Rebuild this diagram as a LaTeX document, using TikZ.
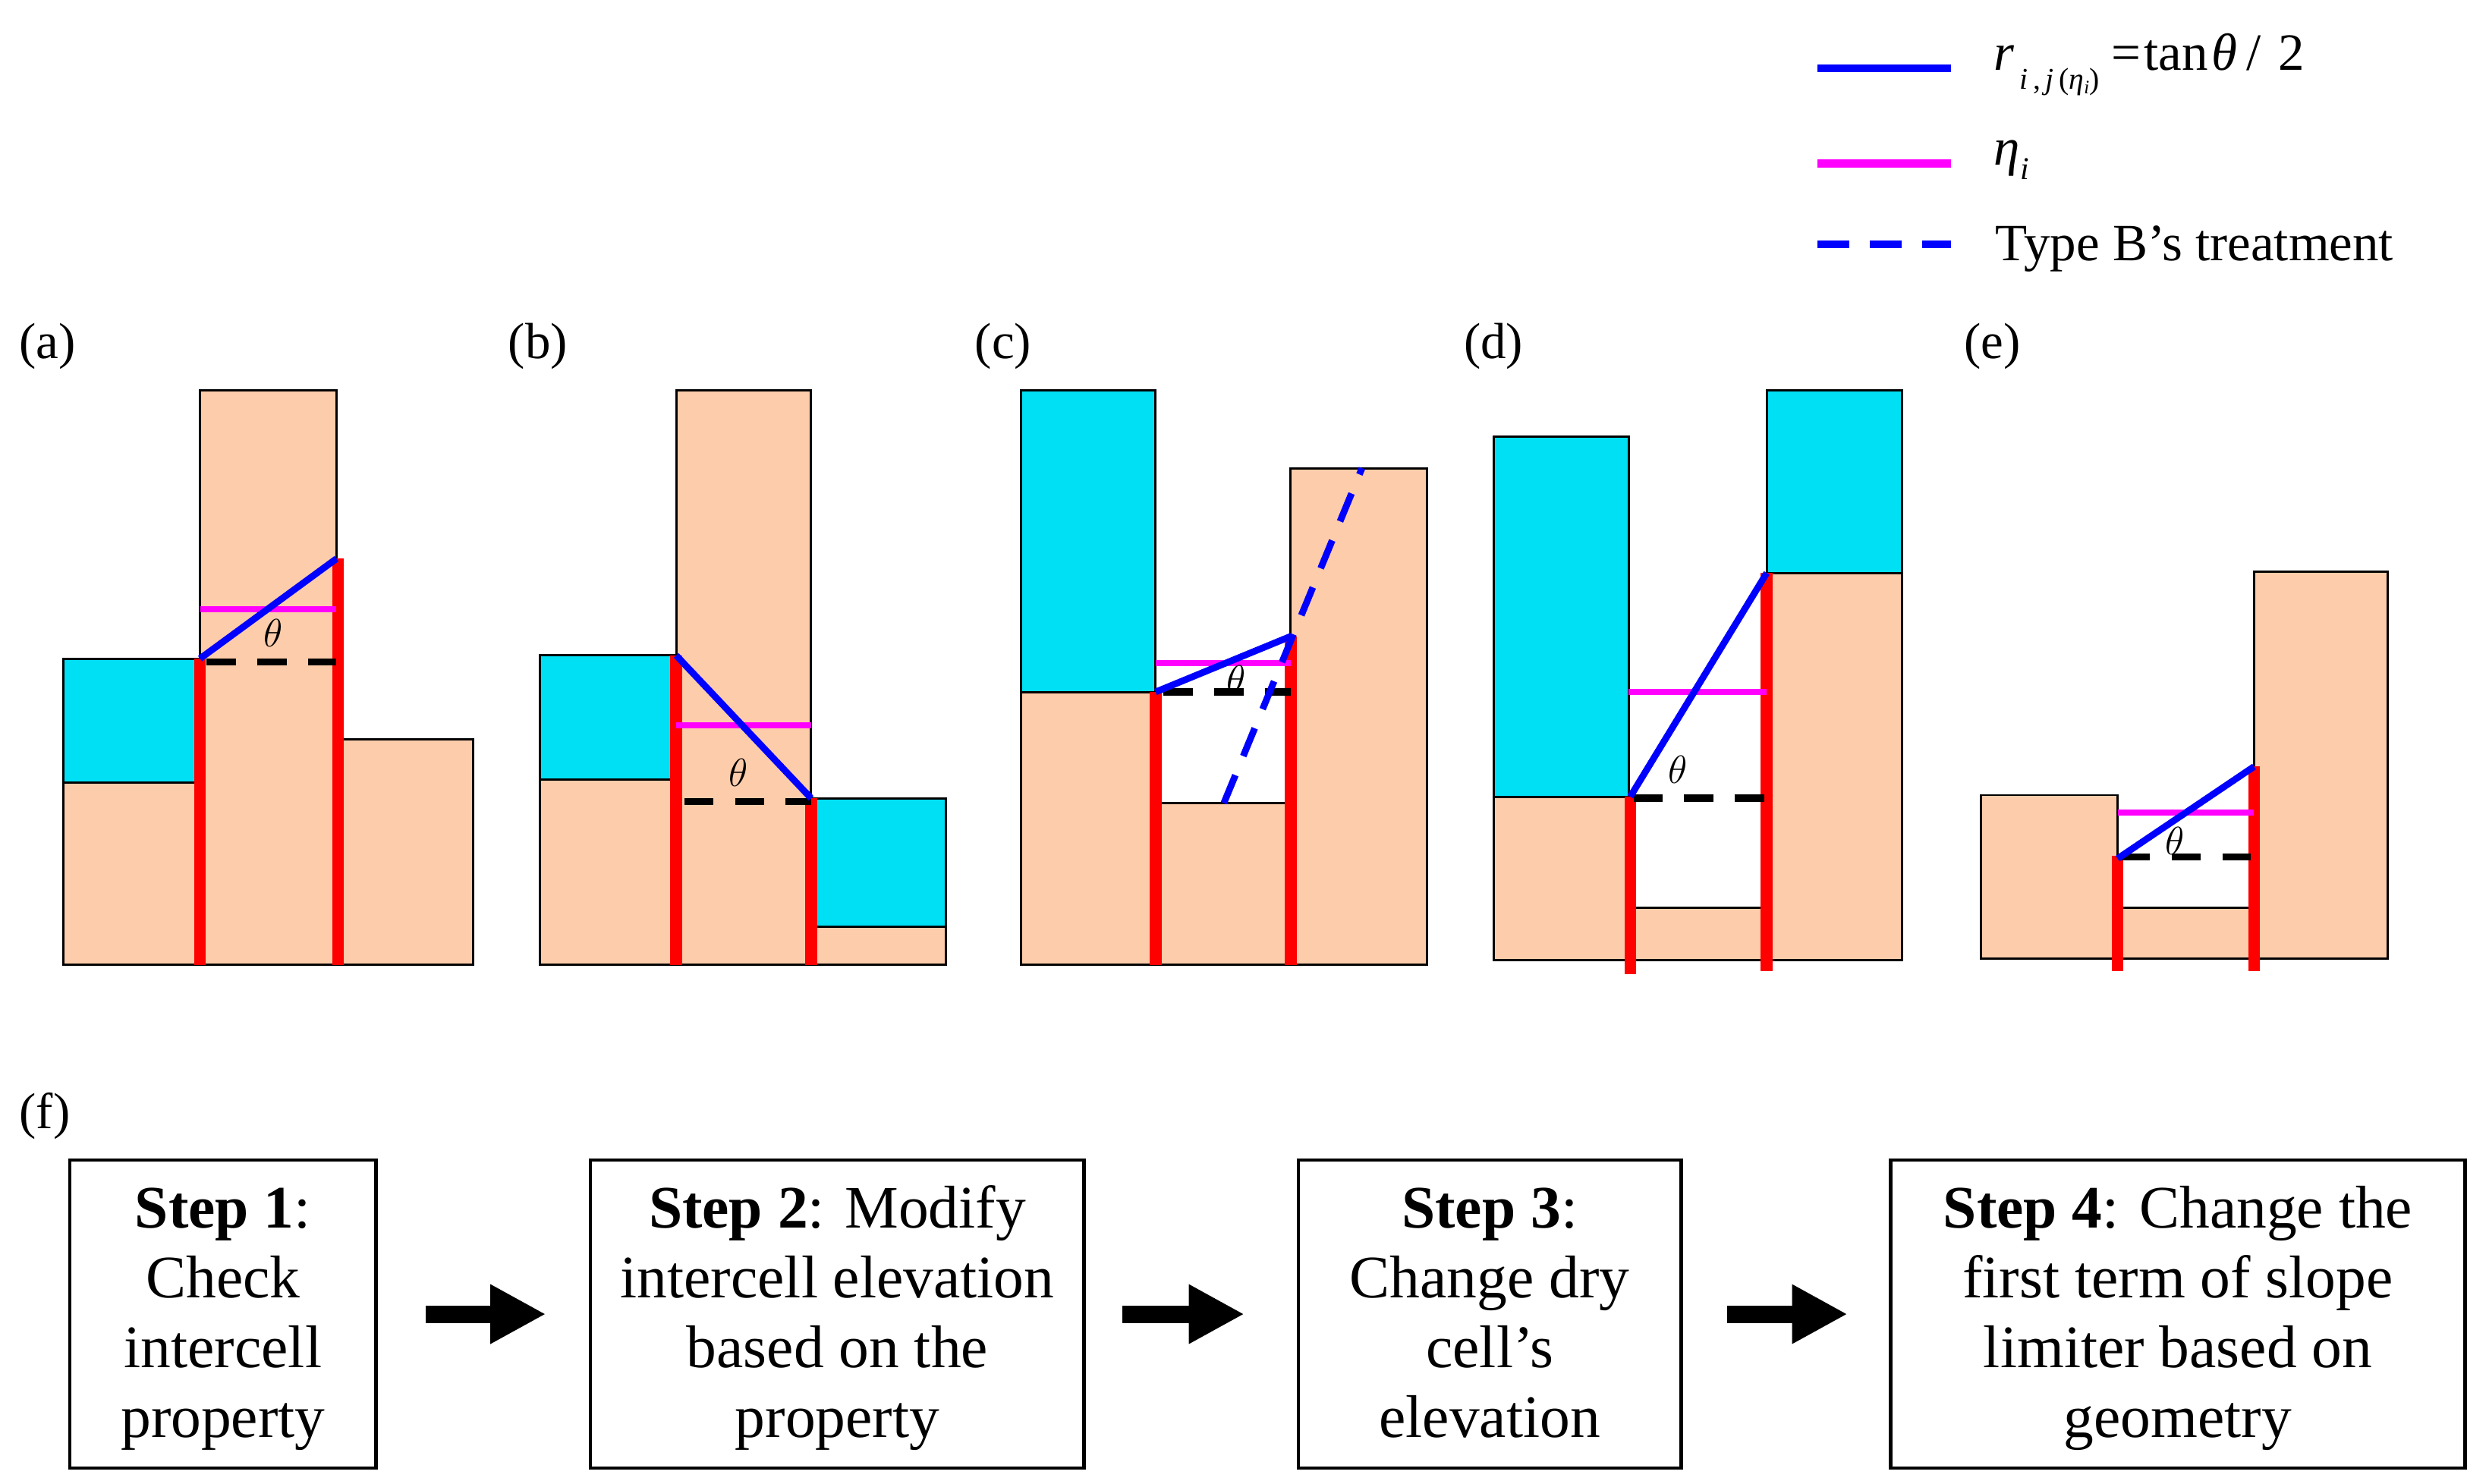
\documentclass[tikz,border=0pt]{standalone}
\usepackage{fontspec}
\setmainfont{Liberation Serif}
\usepackage{amsmath}
\usetikzlibrary{arrows.meta}
\definecolor{soil}{RGB}{253,204,170}
\definecolor{water}{RGB}{0,224,245}
\definecolor{etacol}{RGB}{255,0,255}
\definecolor{gradcol}{RGB}{0,0,255}
\definecolor{wallcol}{RGB}{255,0,0}
\tikzset{
  cell/.style={draw=black, line width=1.4pt, fill=soil},
  wet/.style={draw=black, line width=1.4pt, fill=water},
  wall/.style={wallcol, line width=7.5pt},
  grad/.style={gradcol, line width=4.2pt},
  etaline/.style={etacol, line width=3.8pt},
  refline/.style={black, line width=4.6pt, dash pattern=on 18.5pt off 13.5pt},
  typeb/.style={gradcol, line width=4.2pt, dash pattern=on 19pt off 13pt},
  ang/.style={font=\fontsize{26}{30}\selectfont, inner sep=0pt},
  plabel/.style={font=\fontsize{32}{38}\selectfont, anchor=base west, inner sep=0pt},
  legtext/.style={font=\fontsize{33}{38}\selectfont, anchor=base west, inner sep=0pt},
  stepbox/.style={draw, line width=2.2pt, minimum height=194pt, align=center,
    font=\fontsize{38}{44}\selectfont, inner sep=0pt},
  bigarrow/.style={line width=11pt, -{Triangle[length=35pt,width=35pt]}},
  legblue/.style={gradcol, line width=5pt},
  legmag/.style={etacol, line width=5pt},
  legdash/.style={gradcol, line width=5pt, dash pattern=on 20pt off 13pt},
}
\newcommand{\firstln}{\rule{0pt}{36.4pt}}
\newcommand{\lastln}{\rule[-13.2pt]{0pt}{13.2pt}}
\begin{document}
\begin{tikzpicture}[x=1pt,y=-1pt]
\useasboundingbox (0,0) rectangle (1568,935);

% ---------------- legend ----------------
\coordinate (l1a) at (1145,43); \coordinate (l1b) at (1229,43);
\coordinate (l2a) at (1145,103); \coordinate (l2b) at (1229,103);
\coordinate (l3a) at (1145,154); \coordinate (l3b) at (1229,154);
\draw[legblue] (l1a) -- (l1b);
\draw[legmag] (l2a) -- (l2b);
\draw[legdash] (l3a) -- (l3b);
\node[legtext] (leg1) at (1256,44) {\textit{r}\raisebox{-12pt}{\makebox[50pt][l]{\fontsize{19}{22}\selectfont\,\textit{i}\,,\,\textit{j}\,(\textit{η}\raisebox{-3pt}{\fontsize{12}{14}\selectfont\textit{i}})}}\hspace{11pt}=\hspace{2pt}tan\hspace{2pt}\textit{θ}\hspace{6pt}/\hspace{11pt}2};
\node[legtext] (leg2) at (1256,104) {\textit{η}\raisebox{-9pt}{\fontsize{20}{24}\selectfont\textit{i}}};
\node[legtext] (leg3) at (1257,164) {Type B’s treatment};

% ---------------- panel labels ----------------
\node[plabel] (la) at (12,226) {(a)};
\node[plabel] (lb) at (320,226) {(b)};
\node[plabel] (lc) at (614,226) {(c)};
\node[plabel] (ld) at (922,226) {(d)};
\node[plabel] (le) at (1237,226) {(e)};
\node[plabel] (lf) at (12,711) {(f)};

% ---------------- panel (a) ----------------
\draw[cell] (40,493) rectangle (126,608);
\draw[wet] (40,415) rectangle (126,493);
\draw[cell] (126,246) rectangle (212,608);
\draw[cell] (212,466) rectangle (298,608);
\draw[wall] (126,415) -- (126,608);
\draw[wall] (213,352) -- (213,608);
\draw[refline] (130,417) -- (212,417);
\draw[etaline] (126,384) -- (212,384);
\draw[grad] (126,415) -- (212,352);
\node[ang] (ta) at (172,399) {$\theta$};

% ---------------- panel (b) ----------------
\draw[cell] (340,491) rectangle (426,608);
\draw[wet] (340,413) rectangle (426,491);
\draw[cell] (426,246) rectangle (511,608);
\draw[cell] (511,584) rectangle (596,608);
\draw[wet] (511,503) rectangle (596,584);
\draw[wall] (426,413) -- (426,608);
\draw[wall] (511,503) -- (511,608);
\draw[refline] (431,505) -- (511,505);
\draw[etaline] (426,457) -- (511,457);
\draw[grad] (426,413) -- (511,503);
\node[ang] (tb) at (465,487) {$\theta$};

% ---------------- panel (c) ----------------
\draw[cell] (643,436) rectangle (728,608);
\draw[wet] (643,246) rectangle (728,436);
\draw[cell] (728,506) rectangle (813,608);
\draw[cell] (813,295) rectangle (899,608);
\draw[wall] (728,436) -- (728,608);
\draw[wall] (813,401) -- (813,608);
\draw[refline] (733,436) -- (813,436);
\draw[etaline] (728,418) -- (813,418);
\draw[grad] (728,436) -- (813,401);
\draw[typeb] (771,506) -- (858,295);
\node[ang] (tc) at (779,428) {$\theta$};

% ---------------- panel (d) ----------------
\draw[cell] (941,502) rectangle (1026,605);
\draw[wet] (941,275) rectangle (1026,502);
\draw[cell] (1026,572) rectangle (1113,605);
\draw[cell] (1113,361) rectangle (1198,605);
\draw[wet] (1113,246) rectangle (1198,361);
\draw[wall] (1027,502) -- (1027,614);
\draw[wall] (1113,361) -- (1113,612);
\draw[refline] (1029,503) -- (1112,503);
\draw[etaline] (1026,436) -- (1113,436);
\draw[grad] (1027,502) -- (1113,361);
\node[ang] (td) at (1057,485) {$\theta$};

% ---------------- panel (e) ----------------
\draw[cell] (1248,501) rectangle (1334,604);
\draw[cell] (1334,572) rectangle (1420,604);
\draw[cell] (1420,360) rectangle (1504,604);
\draw[wall] (1334,539) -- (1334,612);
\draw[wall] (1420,483) -- (1420,612);
\draw[refline] (1336,540) -- (1418,540);
\draw[etaline] (1334,512) -- (1420,512);
\draw[grad] (1334,541) -- (1420,483);
\node[ang] (te) at (1370,530) {$\theta$};

% ---------------- flow (f) ----------------
\node[stepbox, minimum width=193pt] (s1) at (140.5,828) {\firstln\textbf{Step 1}:\\Check\\intercell\\property\lastln};
\node[stepbox, minimum width=311pt] (s2) at (527.5,828) {\firstln\textbf{Step 2}: Modify\\intercell elevation\\based on the\\property\lastln};
\node[stepbox, minimum width=241pt] (s3) at (938.5,828) {\firstln\textbf{Step 3}:\\Change dry\\cell’s\\elevation\lastln};
\node[stepbox, minimum width=362pt] (s4) at (1372,828) {\firstln\textbf{Step 4}: Change the\\first term of slope\\limiter based on\\geometry\lastln};
\draw[bigarrow, shorten <=30pt, shorten >=27pt] (s1.east) -- (s2.west);
\draw[bigarrow, shorten <=23pt, shorten >=33pt] (s2.east) -- (s3.west);
\draw[bigarrow, shorten <=28pt, shorten >=26pt] (s3.east) -- (s4.west);
\end{tikzpicture}
\end{document}
